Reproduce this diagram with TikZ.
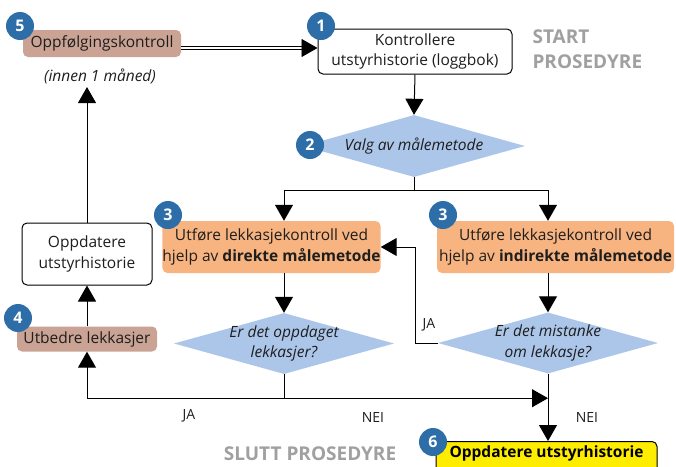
\documentclass[tikz,border=0pt]{standalone}
\usepackage{fontspec}
\setmainfont{Open Sans}
\usetikzlibrary{arrows.meta,shapes.geometric}
\definecolor{badgec}{RGB}{46,110,168}
\definecolor{brownc}{RGB}{202,163,148}
\definecolor{orangec}{RGB}{248,180,128}
\definecolor{diac}{RGB}{172,198,234}
\definecolor{yellowc}{RGB}{255,237,0}
\definecolor{grayc}{RGB}{160,160,160}
\definecolor{txt}{RGB}{30,30,30}
\begin{document}
\begin{tikzpicture}[x=1pt,y=-1pt,
  box/.style={rounded corners=5pt, inner sep=0pt, align=center, text=txt, font=\fontsize{15.5}{20.5}\selectfont},
  bwhite/.style={box, draw=black, line width=1pt, fill=white},
  bbrown/.style={box, fill=brownc},
  borange/.style={box, fill=orangec},
  byellow/.style={box, draw=black, line width=1pt, fill=yellowc},
  dia/.style={diamond, fill=diac, inner sep=0pt},
  dtext/.style={align=center, text=txt, font=\itshape\fontsize{15.5}{20.5}\selectfont},
  badge/.style={circle, fill=badgec, text=white, minimum size=28pt, inner sep=0pt, font=\bfseries\fontsize{16}{16}\selectfont},
  arr/.style={-{Triangle[width=18pt,length=16pt]}, line width=1pt},
  conn/.style={line width=1pt},
  lbl/.style={text=txt, font=\fontsize{14}{16}\selectfont},
  graytxt/.style={text=grayc, font=\bfseries\fontsize{19}{25}\selectfont, align=left}
]
\useasboundingbox (0,0) rectangle (676,466);
\clip (0,0) rectangle (676,466);

% boxes
\node[bbrown, minimum width=158pt, minimum height=27pt] (b5) at (102,43.5) {Oppfølgingskontroll};
\node[dtext] (innen) at (100,76) {(innen 1 måned)};
\node[bwhite, minimum width=194pt, minimum height=45pt] (b1) at (415,51.5) {Kontrollere\\utstyrhistorie (loggbok)};
\node[graytxt, anchor=west] (start) at (529,49.5) {START\\PROSEDYRE};
\node[dia, minimum width=222pt, minimum height=62pt] (d2) at (414,146) {};
\node[dtext] (d2t) at (d2) {Valg av målemetode};
\node[borange, minimum width=215pt, minimum height=52pt] (b3l) at (271.5,247) {Utføre lekkasjekontroll ved\\hjelp av \textbf{direkte målemetode}};
\node[borange, minimum width=237pt, minimum height=52pt] (b3r) at (555.5,247) {Utføre lekkasjekontroll ved\\hjelp av \textbf{indirekte målemetode}};
\node[bwhite, minimum width=130pt, minimum height=62pt] (bo) at (87,254) {Oppdatere\\utstyrhistorie};
\node[bbrown, minimum width=140pt, minimum height=25pt] (b4) at (87,339) {Utbedre lekkasjer};
\node[dia, minimum width=220pt, minimum height=61pt] (dl) at (284,343.5) {};
\node[dtext] (dlt) at (dl) {Er det oppdaget\\lekkasjer?};
\node[dia, minimum width=220pt, minimum height=61pt] (dr) at (548,343) {};
\node[dtext] (drt) at (dr) {Er det mistanke\\om lekkasje?};
\node[byellow, minimum width=221pt, minimum height=34pt, anchor=north] (b6) at (546.5,441) {};
\node[box, font=\bfseries\fontsize{15.5}{18}\selectfont, text=black] (b6t) at (546.5,453) {Oppdatere utstyrhistorie};
\node[graytxt] (slutt) at (310,454) {SLUTT PROSEDYRE};

% connectors
\coordinate (dstart) at ([yshift=-4.5pt]b5.east);
\draw[double=white, double distance=2.5pt, line width=0.9pt, -{Triangle[width=18pt,length=16pt,sep=0pt]}] (dstart) -- (dstart -| b1.west);
\draw[arr] (b1.south) -- (d2.north);
\coordinate (split) at ([yshift=-13pt]d2.south);
\draw[conn] (d2.south) -- (split);
\draw[conn] (split -| dl.north) -- (split -| dr.north);
\draw[arr] (split -| dl.north) -- (dl.north |- b3l.north);
\draw[arr] (split -| dr.north) -- (dr.north |- b3r.north);
\draw[arr] (dl.north |- b3l.south) -- (dl.north);
\draw[arr] (dr.north |- b3r.south) -- (dr.north);
\draw[arr] (dr.west) -- ++(-22,0) |- (b3l.east);
\coordinate (low) at ([yshift=-24pt]dl.south);
\draw[conn] (dl.south) -- (low);
\draw[arr] (low) -| (b4.south);
\draw[arr] (low) -- (low -| dr.south);
\draw[arr] (dr.south) -- (dr.south |- b6.north);
\draw[arr] (b4.north) -- (bo.south);
\draw[arr] (bo.north) -- (bo.north |- innen.south);

% labels
\node[lbl] (ja1) at (189,416) {JA};
\node[lbl] (nei1) at (373,417) {NEI};
\node[lbl] (nei2) at (587,417) {NEI};
\node[lbl] (ja2) at (429,325) {JA};

% badges
\node[badge] (n5) at (20,26) {5};
\node[badge] (n1) at (321,26) {1};
\node[badge] (n2) at (310,145) {2};
\node[badge] (n3a) at (168,215) {3};
\node[badge] (n3b) at (443,215) {3};
\node[badge] (n4) at (18,318) {4};
\node[badge] (n6) at (433,442) {6};
\end{tikzpicture}
\end{document}
